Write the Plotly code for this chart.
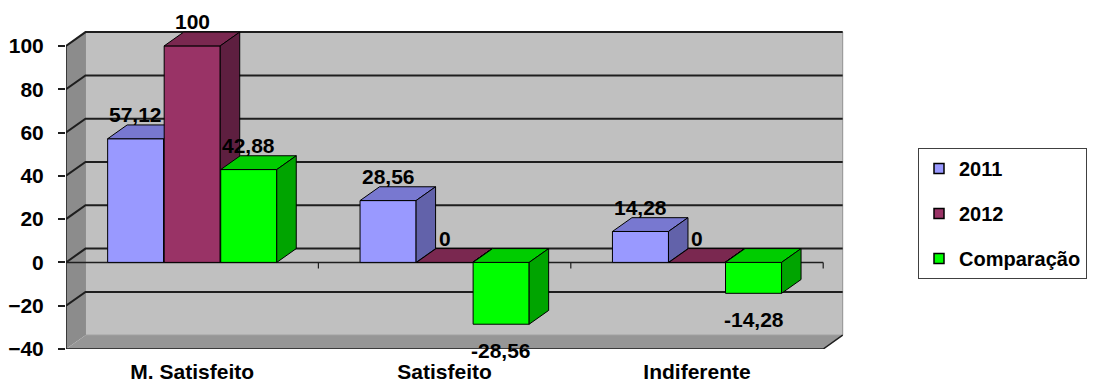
import plotly.graph_objects as go

# ---------------- data ----------------
categories = ["M. Satisfeito", "Satisfeito", "Indiferente"]
series_names = ["2011", "2012", "Comparação"]
values_2011 = [57.12, 28.56, 14.28]
values_2012 = [100, 0, 0]
values_comp = [42.88, -28.56, -14.28]
y_ticks = [-40, -20, 0, 20, 40, 60, 80, 100]

series_values = [values_2011, values_2012, values_comp]

# ---------------- style ----------------
FONT = "Liberation Sans, Arial, sans-serif"
front_colors = ["#9999FF", "#993366", "#00FF00"]
top_colors = ["#7878D0", "#7A2850", "#00CC00"]
side_colors = ["#6262AA", "#5E1F40", "#00A400"]

W, H = 1097, 385
ML, MT, MB, MR = 66, 0, 36, 247
PX_X = 252.4      # pixels per category
PX_Y = 2.165      # pixels per value unit
plot_w = W - ML - MR
plot_h = H - MT - MB
Y_MIN = y_ticks[0]
Y_TOP = y_ticks[-1]
Y_MAX = Y_MIN + plot_h / PX_Y
X_MAX = plot_w / PX_X
NCAT = len(categories)

DX = 19.5 / PX_X   # depth offset (x units)
DY = 13.8 / PX_Y   # depth offset (y units)
BAR_W = 0.222
BAR_STEP = 0.224

def fmt(v):
    return f"{v:g}".replace(".", ",")

fig = go.Figure()

# legend entries
for s, name in enumerate(series_names):
    fig.add_trace(go.Scatter(
        x=[None], y=[None], mode="markers", name=name,
        legendgroup=name,
        marker=dict(symbol="square", size=10, color=front_colors[s],
                    line=dict(color="black", width=1.5)),
    ))

def face(xs, ys, color):
    fig.add_trace(go.Scatter(
        x=xs + [xs[0]], y=ys + [ys[0]], mode="lines", fill="toself",
        fillcolor=color, line=dict(color="black", width=1),
        showlegend=False, hoverinfo="skip",
    ))

annotations = []
for i in range(NCAT):
    for s in range(len(series_names)):
        v = series_values[s][i]
        xc = i + 0.5 + (s - 1) * BAR_STEP
        x0, x1 = xc - BAR_W / 2, xc + BAR_W / 2
        lo, hi = min(v, 0), max(v, 0)
        # front
        face([x0, x1, x1, x0], [lo, lo, hi, hi], front_colors[s])
        # top
        face([x0, x1, x1 + DX, x0 + DX], [hi, hi, hi + DY, hi + DY], top_colors[s])
        # side
        face([x1, x1 + DX, x1 + DX, x1], [lo, lo + DY, hi + DY, hi], side_colors[s])
        annotations.append(dict(
            x=xc, y=v, text=fmt(v), showarrow=False,
            xanchor="center", yanchor="middle",
            yshift=24 if v >= 0 else -26,
            font=dict(family=FONT, size=21, color="black", weight="bold"),
        ))

# ---------------- walls & gridlines (shapes) ----------------
shapes = []
# back wall
shapes.append(dict(type="rect", layer="below", x0=DX, x1=NCAT + DX,
                   y0=Y_MIN + DY, y1=Y_TOP + DY,
                   fillcolor="#C0C0C0", line=dict(color="#909090", width=1)))
# left side wall
shapes.append(dict(type="path", layer="below",
                   path=f"M0,{Y_MIN} L0,{Y_TOP} L{DX},{Y_TOP+DY} L{DX},{Y_MIN+DY} Z",
                   fillcolor="#8C8C8C", line=dict(width=0)))
# floor
shapes.append(dict(type="path", layer="below",
                   path=f"M0,{Y_MIN} L{NCAT},{Y_MIN} L{NCAT+DX},{Y_MIN+DY} L{DX},{Y_MIN+DY} Z",
                   fillcolor="#969696", line=dict(width=0)))
# gridlines
for t in y_ticks[1:]:
    shapes.append(dict(type="path", layer="below",
                       path=f"M0,{t} L{DX},{t+DY} L{NCAT+DX},{t+DY}",
                       line=dict(color="#1E1E1E", width=2)))
# floor outline
shapes.append(dict(type="path", layer="below",
                   path=f"M0,{Y_MIN} L{NCAT},{Y_MIN} L{NCAT+DX},{Y_MIN+DY}",
                   line=dict(color="#1E1E1E", width=1.5)))
# front vertical axis
shapes.append(dict(type="line", layer="below", x0=0, x1=0, y0=Y_MIN, y1=Y_TOP,
                   line=dict(color="#1E1E1E", width=1.5)))
# front zero axis with category ticks
shapes.append(dict(type="line", layer="below", x0=0, x1=NCAT, y0=0, y1=0,
                   line=dict(color="#1E1E1E", width=1.5)))
for k in range(1, NCAT + 1):
    shapes.append(dict(type="line", layer="below", x0=k, x1=k, y0=0, y1=-6 / PX_Y,
                       line=dict(color="#1E1E1E", width=1.2)))

fig.update_layout(
    width=W, height=H,
    margin=dict(l=ML, r=MR, t=MT, b=MB, pad=0),
    paper_bgcolor="white", plot_bgcolor="white",
    font=dict(family=FONT, size=21, color="black", weight="bold"),
    shapes=shapes, annotations=annotations,
    showlegend=True,
    legend=dict(
        x=(918 - ML) / plot_w, y=1 - (148 - MT) / plot_h,
        xanchor="left", yanchor="top",
        bgcolor="white", bordercolor="#404040", borderwidth=1,
        font=dict(family=FONT, size=20, color="black", weight="bold"),
        tracegroupgap=16, traceorder="grouped",
    ),
    xaxis=dict(range=[0, X_MAX], tickvals=[i + 0.5 for i in range(NCAT)],
               ticktext=categories, showgrid=False, zeroline=False,
               showline=False, ticks="", automargin=False,
               ticklabelstandoff=8,
               tickfont=dict(family=FONT, size=21, color="black", weight="bold")),
    yaxis=dict(range=[Y_MIN, Y_MAX], tickvals=y_ticks,
               showgrid=False, zeroline=False, showline=False,
               ticks="outside", ticklen=7, tickwidth=1.5, tickcolor="#1E1E1E",
               automargin=False, ticklabelstandoff=10,
               tickfont=dict(family=FONT, size=21, color="black", weight="bold")),
)

fig.write_html("out.html")
